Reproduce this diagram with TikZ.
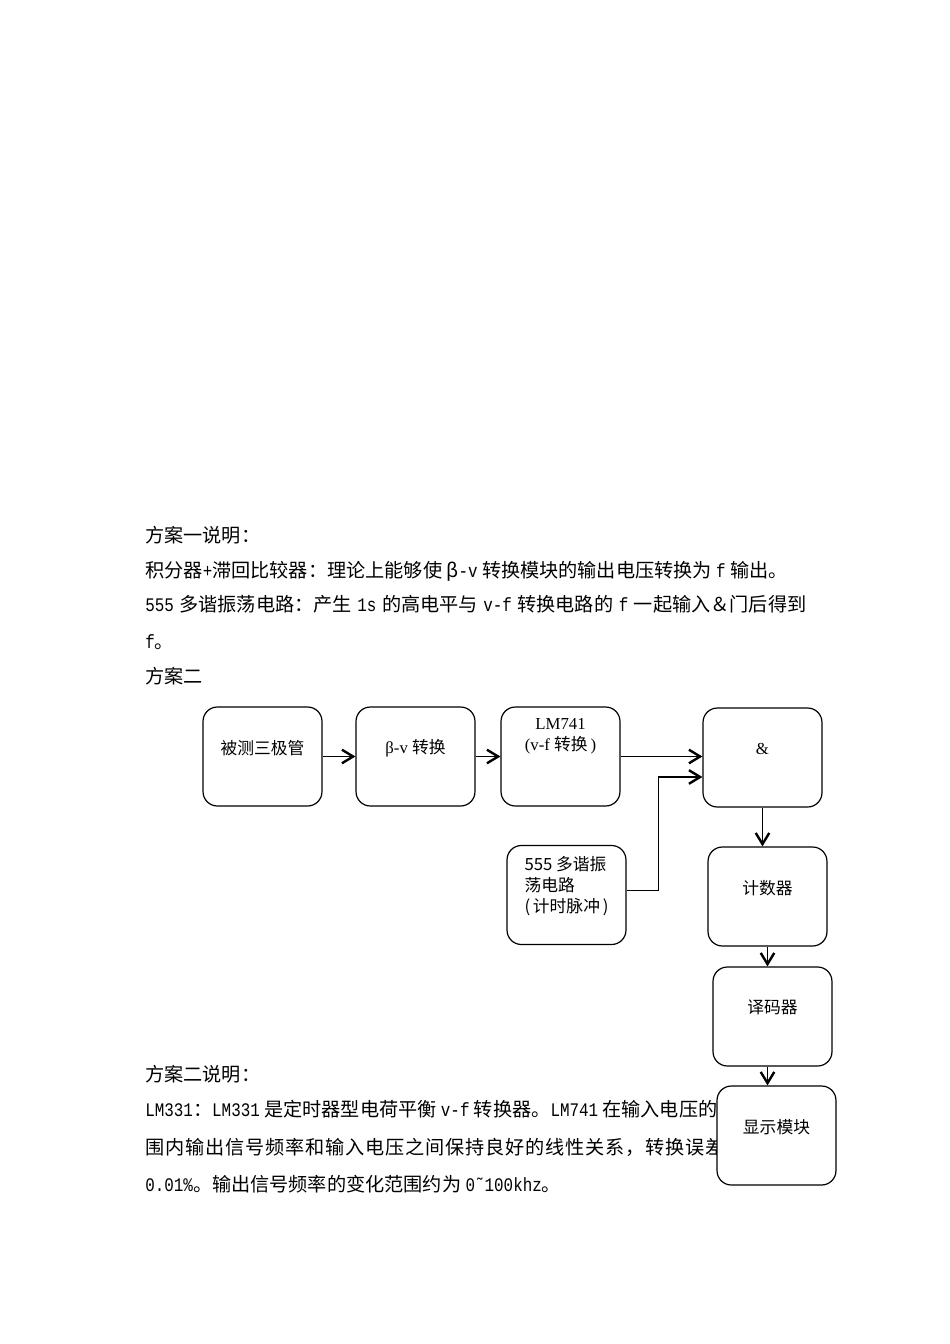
\documentclass[tikz,border=0pt]{standalone}
\usepackage{fontspec}
\setmainfont{Liberation Serif}
\newfontfamily\cjk{Noto Sans CJK SC}
\newfontfamily\cjkwide[LetterSpace=4.4]{Noto Sans CJK SC}
\newfontfamily\lat[FakeStretch=0.83]{Liberation Mono}
\newcommand{\en}[1]{{\lat #1}}
\usetikzlibrary{arrows.meta}

\tikzset{
  block/.style={draw, rounded corners=9pt, line width=0.75pt, fill=white,
    minimum width=74.5pt, minimum height=62pt},
  lift/.style={yshift=5.5pt, font=\fontsize{10.5}{13}\selectfont, align=center},
  link/.style={line width=0.75pt,
    -{Straight Barb[length=7pt,width=8.5pt,line width=1.5pt]}},
  para/.style={anchor=base west, inner sep=0pt, font=\cjk\fontsize{12}{14}\selectfont},
}

\begin{document}
\begin{tikzpicture}[x=0.6263pt, y=-0.6263pt]
\useasboundingbox (0,0) rectangle (950,1344);

% text above the diagram
\node[para] (t1) at (145,542) {方案一说明：};
\node[para] (t2) at (145,577) {积分器\en{+}滞回比较器：理论上能够使 β\en{-v} 转换模块的输出电压转换为 \en{f} 输出。};
\node[para] (t3) at (145,611) {\makebox[414pt][s]{\en{555} 多谐振荡电路：产生 \en{1s} 的高电平与 \en{v-f} 转换电路的 \en{f} 一起输入＆门后得到}};
\node[para] (t4) at (145,648) {\en{f}。};
\node[para] (t5) at (145,683) {方案二};

% text below the diagram
\node[para] (t6) at (145,1081) {方案二说明：};
\node[para] (t7) at (145,1116) {\en{LM331}：\en{LM331} 是定时器型电荷平衡 \en{v-f} 转换器。\en{LM741} 在输入电压的范};
\node[para, font=\cjkwide\fontsize{12}{14}\selectfont] (t8) at (145,1154) {围内输出信号频率和输入电压之间保持良好的线性关系，转换误差};
\node[para] (t9) at (145,1191) {\en{0.01\%}。输出信号频率的变化范围约为 \en{0˜100khz}。};

% blocks
\node[block, label={[lift]center:{\cjk 被测三极管}}] (dut) at (262.5,756.5) {};
\node[block, label={[lift]center:{β-v {\cjk 转换}}}] (bv) at (415.5,756.5) {};
\node[block, label={[lift,yshift=7pt]center:{LM741\\(v-f {\cjk 转换}\,)}}] (lm) at (560.5,756.5) {};
\node[block, label={[lift]center:{\&}}] (andg) at (762.5,757.5) {};
\node[block, label={[lift,align=left,font=\cjk\fontsize{10.5}{13}\selectfont]center:{555 多谐振\\荡电路\\(\,计时脉冲\,)}}] (osc) at (566.5,895) {};
\node[block, label={[lift]center:{\cjk 计数器}}] (cnt) at (767.5,896.5) {};
\node[block, label={[lift]center:{\cjk 译码器}}] (dec) at (772.5,1016.5) {};
\node[block, label={[lift]center:{\cjk 显示模块}}] (disp) at (776.5,1135.5) {};

% connectors
\coordinate (in2) at ([yshift=-12.2pt]andg.west);
\draw[link] (dut) -- (bv);
\draw[link] (bv) -- (lm);
\draw[link] (lm.east) -- (lm.east -| andg.west);
\draw[link] ([yshift=3pt]osc.east) -- ++(32,0) |- (in2);
\draw[link] (andg.south) -- (andg.south |- cnt.north);
\draw[link] (cnt.south) -- (cnt.south |- dec.north);
\draw[link] (cnt.south |- dec.south) -- (cnt.south |- disp.north);
\end{tikzpicture}
\end{document}
